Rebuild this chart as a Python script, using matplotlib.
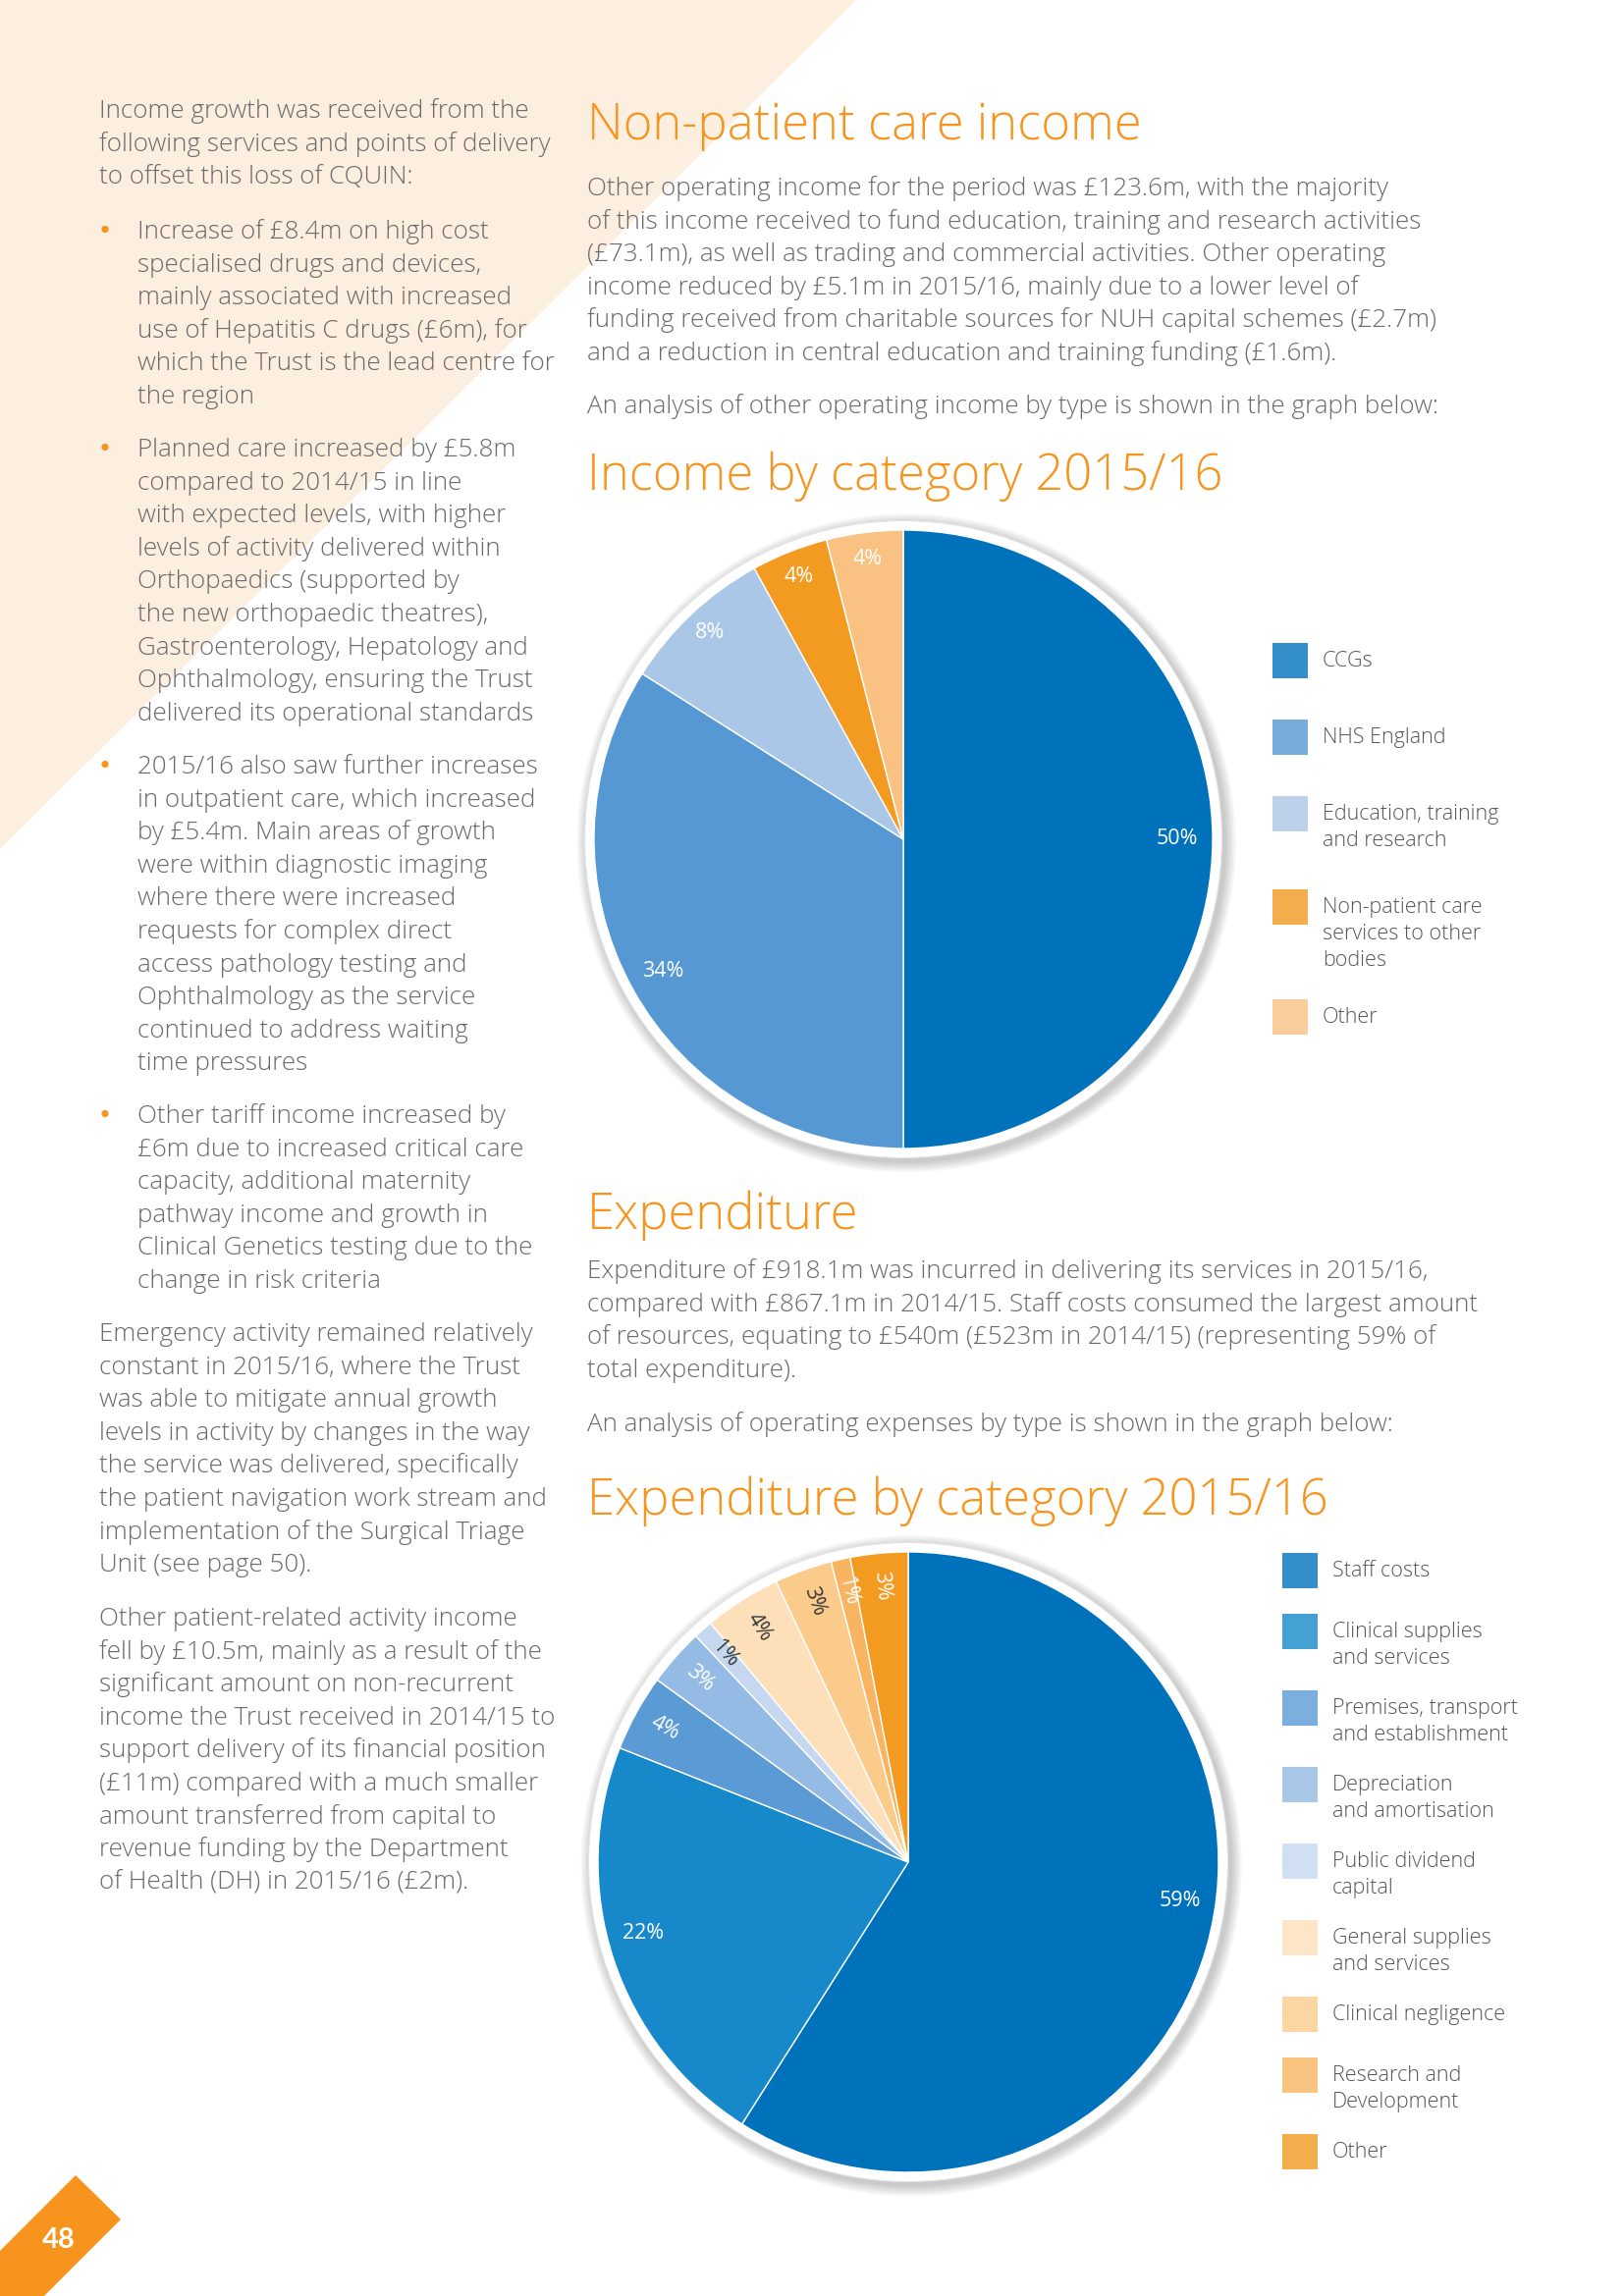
#!/usr/bin/env python3
# -*- coding: utf-8 -*-
import os
import numpy as np
import matplotlib.pyplot as plt
from matplotlib import font_manager as fm
from matplotlib.patches import Polygon, Circle, Rectangle

W, H = 1654, 2339
ORANGE = "#F7941D"
GREY = "#6a6a6a"

# ---- data ----
income_labels = [
    "CCGs",
    "NHS England",
    "Education, training\nand research",
    "Non-patient care\nservices to other\nbodies",
    "Other",
]
income_pct = [50, 34, 8, 4, 4]

exp_labels = [
    "Staff costs",
    "Clinical supplies\nand services",
    "Premises, transport\nand establishment",
    "Depreciation\nand amortisation",
    "Public dividend\ncapital",
    "General supplies\nand services",
    "Clinical negligence",
    "Research and\nDevelopment",
    "Other",
]
exp_pct = [59, 22, 4, 3, 1, 4, 3, 1, 3]

# ---- colours / label styling ----
income_colors = ["#0072BC", "#5598D3", "#ABC7E7", "#F39A21", "#F9C283"]
exp_colors = ["#0072BC", "#1788CA", "#5B9BD5", "#94BBE3", "#C5D8EF",
              "#FDE0BA", "#FBCB8C", "#F8B461", "#F39A21"]
exp_text_colors = ["white", "white", "white", "white", "#3a3a3a",
                   "#3a3a3a", "#3a3a3a", "white", "white"]
exp_label_shift = [8, -3, 0, 0, 0, 0, 0, 0, 0]  # degrees, nudges like the original

# ---- page text ----
intro = [
    "Income growth was received from the",
    "following services and points of delivery",
    "to offset this loss of CQUIN:",
]
bullets = [
    ["Increase of £8.4m on high cost",
     "specialised drugs and devices,",
     "mainly associated with increased",
     "use of Hepatitis C drugs (£6m), for",
     "which the Trust is the lead centre for",
     "the region"],
    ["Planned care increased by £5.8m",
     "compared to 2014/15 in line",
     "with expected levels, with higher",
     "levels of activity delivered within",
     "Orthopaedics (supported by",
     "the new orthopaedic theatres),",
     "Gastroenterology, Hepatology and",
     "Ophthalmology, ensuring the Trust",
     "delivered its operational standards"],
    ["2015/16 also saw further increases",
     "in outpatient care, which increased",
     "by £5.4m. Main areas of growth",
     "were within diagnostic imaging",
     "where there were increased",
     "requests for complex direct",
     "access pathology testing and",
     "Ophthalmology as the service",
     "continued to address waiting",
     "time pressures"],
    ["Other tariff income increased by",
     "£6m due to increased critical care",
     "capacity, additional maternity",
     "pathway income and growth in",
     "Clinical Genetics testing due to the",
     "change in risk criteria"],
]
emergency = [
    "Emergency activity remained relatively",
    "constant in 2015/16, where the Trust",
    "was able to mitigate annual growth",
    "levels in activity by changes in the way",
    "the service was delivered, specifically",
    "the patient navigation work stream and",
    "implementation of the Surgical Triage",
    "Unit (see page 50).",
]
other_patient = [
    "Other patient-related activity income",
    "fell by £10.5m, mainly as a result of the",
    "significant amount on non-recurrent",
    "income the Trust received in 2014/15 to",
    "support delivery of its financial position",
    "(£11m) compared with a much smaller",
    "amount transferred from capital to",
    "revenue funding by the Department",
    "of Health (DH) in 2015/16 (£2m).",
]
npc_text = [
    "Other operating income for the period was £123.6m, with the majority",
    "of this income received to fund education, training and research activities",
    "(£73.1m), as well as trading and commercial activities. Other operating",
    "income reduced by £5.1m in 2015/16, mainly due to a lower level of",
    "funding received from charitable sources for NUH capital schemes (£2.7m)",
    "and a reduction in central education and training funding (£1.6m).",
]
npc_note = "An analysis of other operating income by type is shown in the graph below:"
exp_text = [
    "Expenditure of £918.1m was incurred in delivering its services in 2015/16,",
    "compared with £867.1m in 2014/15. Staff costs consumed the largest amount",
    "of resources, equating to £540m (£523m in 2014/15) (representing 59% of",
    "total expenditure).",
]
exp_note = "An analysis of operating expenses by type is shown in the graph below:"


# pick a real "Light" face if one is installed, otherwise regular Lato
def light_face():
    for fam in ["Roboto", "Open Sans", "Noto Sans", "Inter", "Lato"]:
        try:
            path = fm.findfont(fm.FontProperties(family=fam, weight="light"),
                               fallback_to_default=False)
        except Exception:
            continue
        name = os.path.basename(path).lower()
        if "light" in name and "extra" not in name:
            return fam, "light"
    return "Lato", "normal"


FAM, WGT = light_face()
plt.rcParams["font.family"] = [FAM, "DejaVu Sans"]

fig = plt.figure(figsize=(W / 100, H / 100), dpi=100)
bg = fig.add_axes([0, 0, 1, 1])
bg.set_xlim(0, W)
bg.set_ylim(H, 0)
bg.axis("off")
renderer = fig.canvas.get_renderer()


def fit_size(s, target_px, **kw):
    t = bg.text(0, 0, s, fontsize=20, **kw)
    w = t.get_window_extent(renderer).width
    t.remove()
    return 20 * target_px / w


body_fs = fit_size("following services and points of delivery", 461, fontweight=WGT)
head_fs = fit_size("Non-patient care income", 565, fontweight=WGT)
leg_fs = fit_size("Education, training", 180, fontweight=WGT)

# peach triangle + page number tab
bg.add_patch(Polygon([(0, 0), (872, 0), (0, 865)], closed=True, fc="#FDEFE0", ec="none"))
bg.add_patch(Polygon([(77, 2216), (123, 2261), (45, 2339), (0, 2339), (0, 2293)],
                     closed=True, fc=ORANGE, ec="none"))
bg.text(60, 2290, "48", color="white", fontsize=21, fontweight="bold",
        family=["Lato", "DejaVu Sans"], ha="center", va="baseline")

BODY = dict(color=GREY, fontsize=body_fs, fontweight=WGT, va="baseline")
HEAD = dict(color=ORANGE, fontsize=head_fs, fontweight=WGT, va="baseline")
STEP = 33.6


def block(lines, x, y0):
    for i, s in enumerate(lines):
        bg.text(x, y0 + i * STEP, s, **BODY)


# left column
block(intro, 101, 120)
for lines, y0 in zip(bullets, [243, 465, 788, 1144]):
    bg.add_patch(Circle((107, y0 - 9.5), 3.6, fc=ORANGE, ec="none"))
    block(lines, 140, y0)
block(emergency, 101, 1366)
block(other_patient, 101, 1656)

# right column
bg.text(598, 142, "Non-patient care income", **HEAD)
block(npc_text, 598, 199)
block([npc_note], 598, 421)
bg.text(598, 499, "Income by category 2015/16", **HEAD)
bg.text(598, 1252, "Expenditure", **HEAD)
block(exp_text, 598, 1302)
block([exp_note], 598, 1458)
bg.text(598, 1543, "Expenditure by category 2015/16", **HEAD)


def draw_pie(cx, cy, r, values, colors, text_colors, shifts, rotate_small):
    size = 2.2 * r
    ax = fig.add_axes([(cx - size / 2) / W, 1 - (cy + size / 2) / H, size / W, size / H])
    # soft shadow + white rim
    for k in range(6):
        ax.add_patch(Circle((0.01, -0.012), 1.035 + 0.006 * k, fc="black",
                            alpha=0.035, lw=0, zorder=0))
    ax.add_patch(Circle((0, 0), 1.03, fc="white", ec="#e6e6e6", lw=0.8, zorder=0))
    wedges, _ = ax.pie(values, colors=colors, startangle=90, counterclock=False,
                       radius=1, wedgeprops=dict(edgecolor="white", linewidth=1.0))
    ax.set_xlim(-1.1, 1.1)
    ax.set_ylim(-1.1, 1.1)
    ax.set_aspect("equal")
    ax.axis("off")
    for w, v, tc, sh in zip(wedges, values, text_colors, shifts):
        mid = (w.theta1 + w.theta2) / 2 + sh
        small = v < 10
        if rotate_small and small:
            d, rot = 0.895, mid - 180
        else:
            d, rot = (0.915 if small else 0.885), 0
        x, y = d * np.cos(np.radians(mid)), d * np.sin(np.radians(mid))
        ax.text(x, y, f"{v}%", color=tc, fontsize=15.5, ha="center", va="center",
                rotation=rot, rotation_mode="anchor")
    return ax


def draw_legend(x, y_top, labels, colors, base_step, line_step):
    y = y_top
    for lab, c in zip(labels, colors):
        bg.add_patch(Rectangle((x, y), 36, 36, fc=c, alpha=0.8, ec="none"))
        for i, s in enumerate(lab.split("\n")):
            bg.text(x + 51, y + 24 + i * 27, s, color="#555555", fontsize=leg_fs,
                    fontweight=WGT, va="baseline")
        y += base_step + line_step * (lab.count("\n"))


draw_pie(920, 855, 315, income_pct, income_colors, ["white"] * 5, [0] * 5, False)
draw_legend(1296, 655, income_labels, income_colors, 78, 17)

draw_pie(925, 1897, 316, exp_pct, exp_colors, exp_text_colors, exp_label_shift, True)
draw_legend(1306, 1582, exp_labels, exp_colors, 62, 16)

fig.savefig("out.png", dpi=100)
